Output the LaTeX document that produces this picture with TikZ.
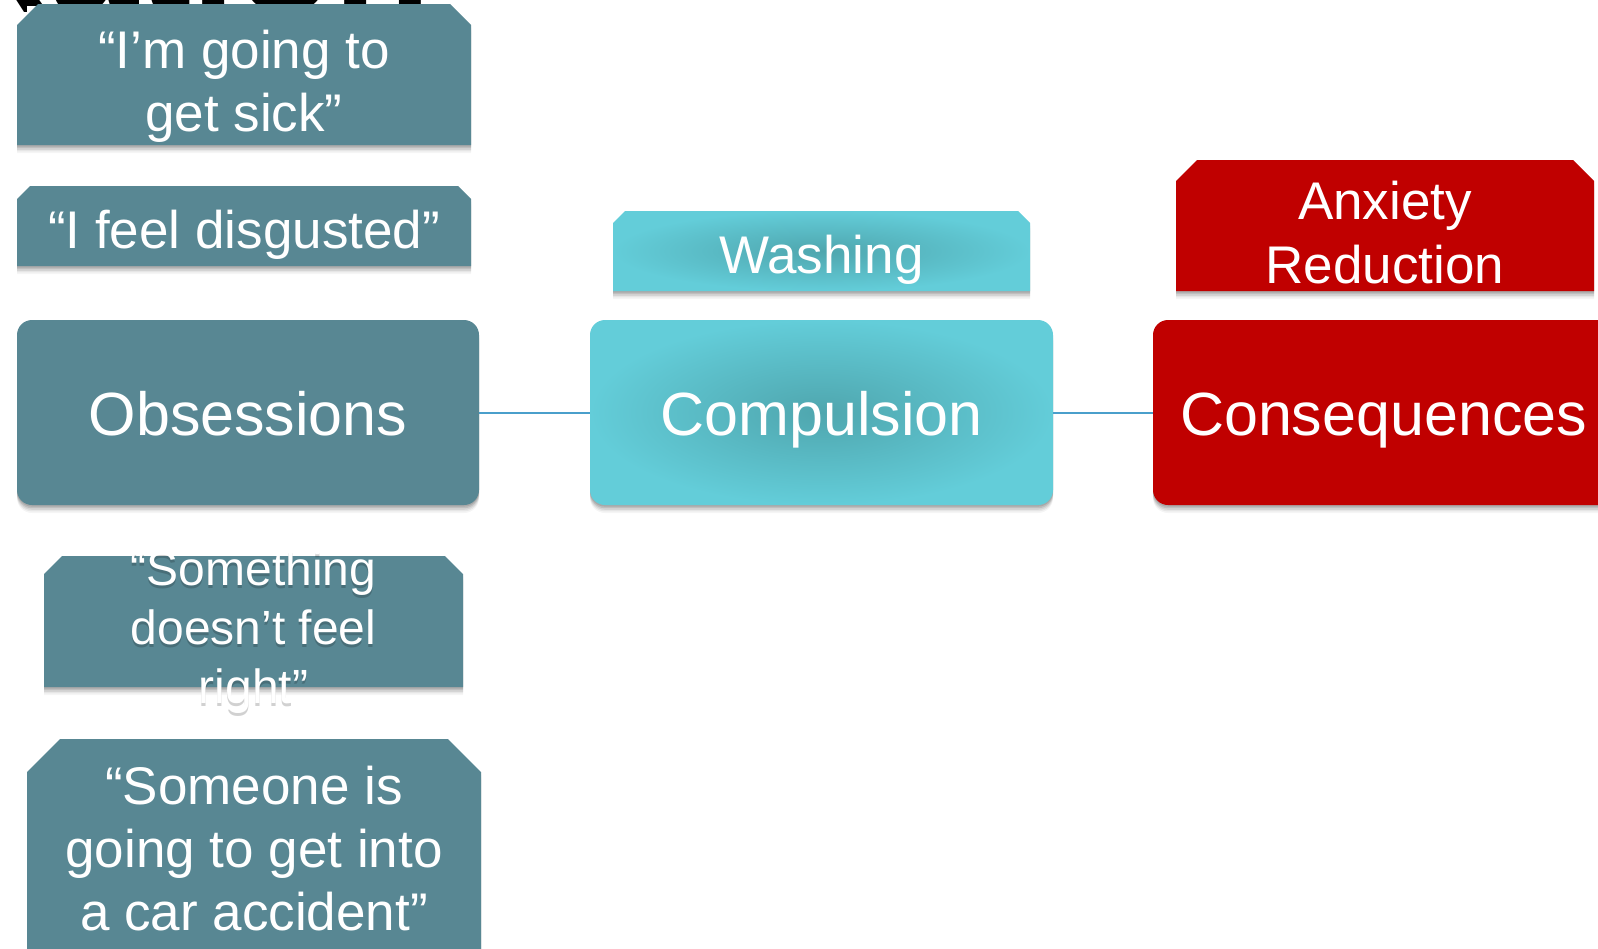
\documentclass[tikz,border=0pt]{standalone}
\usepackage{fontspec}
\setmainfont{Liberation Sans}
\usetikzlibrary{shadows,calc}
\definecolor{tealbox}{HTML}{588793}
\definecolor{cyanedge}{HTML}{63CDD9}
\definecolor{cyanmid}{HTML}{4FA6AE}
\definecolor{redbox}{HTML}{C00000}
\definecolor{linkblue}{HTML}{4A9FCB}
\newcommand\chamfpath[2]{(#1.south west) -- ($(#1.north west)+(0,#2)$) -- ($(#1.north west)+(#2,0)$) -- ($(#1.north east)+(-#2,0)$) -- ($(#1.north east)+(0,#2)$) -- (#1.south east) -- cycle}
\begin{document}
\begin{tikzpicture}[x=0.5pt,y=-0.5pt,
  shad/.style={
    drop shadow={shadow xshift=0pt,shadow yshift=-0.8pt,opacity=0.10,fill=black},
    drop shadow={shadow xshift=0pt,shadow yshift=-1.6pt,opacity=0.10,fill=black},
    drop shadow={shadow xshift=0pt,shadow yshift=-2.4pt,opacity=0.08,fill=black},
    drop shadow={shadow xshift=0pt,shadow yshift=-3.2pt,opacity=0.06,fill=black},
    drop shadow={shadow xshift=0pt,shadow yshift=-4pt,opacity=0.04,fill=black}},
  frame/.style={rectangle,inner sep=0pt,outer sep=0pt},
  bigbox/.style={rectangle,rounded corners=7.5pt,inner sep=0pt,outer sep=0pt,
    minimum height=92.5pt,text=white,font=\fontsize{30.5}{36}\selectfont,
    text height=22.5pt,text depth=0pt,shad},
  lbl/.style={anchor=base,inner sep=0pt,text=white},
  fmid/.style={font=\fontsize{26.5}{31.75}\selectfont},
  fsmall/.style={font=\fontsize{24}{29.5}\selectfont},
  link/.style={draw=linkblue,line width=1pt}]
\useasboundingbox (0,0) rectangle (1598,948);
\fill[white] (0,0) rectangle (1598,948);
% clipped title fragment
\begin{scope}
\clip (0,0) rectangle (520,5) (0,0) rectangle (26,13);
\node[anchor=base west,inner sep=0pt,font=\fontsize{80}{80}\selectfont\bfseries] (title) at (-40,12) {xation};
\end{scope}
% left column boxes
\node[frame,minimum width=227pt,minimum height=70.5pt] (b1) at (244,74.5) {};
\fill[tealbox,shad] \chamfpath{b1}{21};
\node[lbl,fmid] (t1) at (244,68) {\begin{tabular}[t]{@{}c@{}}“I’m going to\\get sick”\end{tabular}};
\node[frame,minimum width=227pt,minimum height=40pt] (b2) at (244,226) {};
\fill[tealbox,shad] \chamfpath{b2}{13};
\node[lbl,fmid] (t2) at (244,248) {“I feel disgusted”};
\node[bigbox,fill=tealbox,minimum width=231pt] (obs) at (248,412.5) {Obsessions};
\node[frame,minimum width=209.5pt,minimum height=65.5pt] (b3) at (253.5,621.5) {};
\fill[tealbox,shad] \chamfpath{b3}{18};
\node[lbl,fsmall,text=black,opacity=0.18] (t3s) at (253.5,588) {\begin{tabular}[t]{@{}c@{}}“Something\\doesn’t feel\\right”\end{tabular}};
\node[lbl,fsmall] (t3) at (253.5,585) {\begin{tabular}[t]{@{}c@{}}“Something\\doesn’t feel\\right”\end{tabular}};
\node[frame,minimum width=227pt,minimum height=135.5pt] (b4) at (254,874.5) {};
\fill[tealbox,shad] \chamfpath{b4}{33};
\node[lbl,font=\fontsize{26.5}{31.5}\selectfont] (t4) at (254,804) {\begin{tabular}[t]{@{}c@{}}“Someone is\\going to get into\\a car accident”\end{tabular}};
% middle column
\node[frame,minimum width=208.5pt,minimum height=40pt] (b5) at (821.5,251) {};
\shade[inner color=cyanmid,outer color=cyanedge,shad] \chamfpath{b5}{12};
\node[lbl,fmid] (t5) at (821.5,273) {Washing};
\node[bigbox,shade,inner color=cyanmid,outer color=cyanedge,minimum width=231.5pt] (comp) at (821.5,412.5) {Compulsion};
% right column
\node[frame,minimum width=209pt,minimum height=65.5pt] (b6) at (1385,225.5) {};
\fill[redbox,shad] \chamfpath{b6}{21};
\node[lbl,font=\fontsize{26.5}{32}\selectfont] (t6) at (1385,219) {\begin{tabular}[t]{@{}c@{}}Anxiety\\Reduction\end{tabular}};
\node[bigbox,fill=redbox,minimum width=230.5pt] (cons) at (1383.5,412.5) {Consequences};
% connectors
\draw[link] (obs.east) -- (comp.west);
\draw[link] (comp.east) -- (cons.west);
\end{tikzpicture}
\end{document}
